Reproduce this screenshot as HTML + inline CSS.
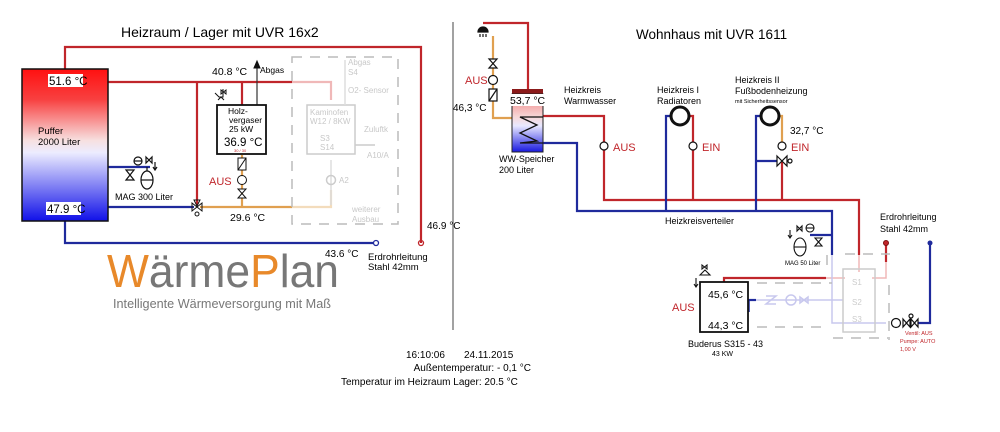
<!DOCTYPE html>
<html><head><meta charset="utf-8"><style>
html,body{margin:0;padding:0;background:#fff;}
svg{display:block;font-family:"Liberation Sans",sans-serif;}
</style></head><body>
<svg width="1000" height="432" viewBox="0 0 1000 432" xmlns="http://www.w3.org/2000/svg">
<defs>
<linearGradient id="tank" x1="0" y1="0" x2="0" y2="1">
<stop offset="0" stop-color="#ff1010"/><stop offset="0.2" stop-color="#f84040"/><stop offset="0.47" stop-color="#f7e0e0"/><stop offset="0.55" stop-color="#ececff"/><stop offset="1" stop-color="#1010e8"/></linearGradient>
<linearGradient id="tank2" x1="0" y1="0" x2="0" y2="1">
<stop offset="0" stop-color="#f08080"/><stop offset="0.4" stop-color="#f7d8d8"/><stop offset="0.55" stop-color="#e8e8ff"/><stop offset="1" stop-color="#1818e0"/></linearGradient>
</defs>
<g fill="none" stroke-width="2.2">
<polyline points="65,70 65,47 421,47 421,243" stroke="#c0262b"/>
<circle cx="421" cy="243" r="2.5" stroke="#c0262b" stroke-width="1.3"/>
<line x1="108" y1="82" x2="292" y2="82" stroke="#c0262b"/>
<polyline points="292,82 331,82 331,100" stroke="#f0b8b8"/>
<line x1="197" y1="82" x2="197" y2="205" stroke="#c0262b"/>
<line x1="242" y1="82" x2="242" y2="105" stroke="#c0262b"/>
<line x1="257" y1="105" x2="257" y2="63" stroke="#333" stroke-width="1.2"/>
<line x1="108" y1="167" x2="150" y2="167" stroke="#1f2a9c"/>
<line x1="108" y1="207" x2="194" y2="207" stroke="#1f2a9c"/>
<line x1="200" y1="207" x2="292" y2="207" stroke="#e0a050"/>
<polyline points="292,207 331,207 331,190" stroke="#f3dcbc"/>
<line x1="242" y1="155" x2="242" y2="207" stroke="#e0a050"/>
<polyline points="65,221 65,243 374,243" stroke="#1f2a9c"/>
<circle cx="376" cy="243" r="2.5" stroke="#1f2a9c" stroke-width="1.3"/>
<polyline points="483,23 528,23 528,89" stroke="#c0262b"/>
<polyline points="493,36 493,118 512,118" stroke="#e0a050"/>
<polyline points="543,116 604,116 604,200 859,200 859,255" stroke="#c0262b"/>
<polyline points="543,143 577,143 577,211 832,211 832,255" stroke="#1f2a9c"/>
<polyline points="666,211 666,116 671,116" stroke="#1f2a9c"/>
<polyline points="689,116 693,116 693,200" stroke="#c0262b"/>
<polyline points="756,211 756,116 761,116" stroke="#1f2a9c"/>
<polyline points="779,116 782,116 782,146" stroke="#e0a050"/>
<line x1="782" y1="162" x2="782" y2="200" stroke="#c0262b"/>
<line x1="756" y1="161" x2="779" y2="161" stroke="#1f2a9c"/>
<line x1="810" y1="235" x2="832" y2="235" stroke="#1f2a9c"/>
<polyline points="724,282 724,278 826,278" stroke="#c0262b"/>
<line x1="748" y1="300" x2="756" y2="300" stroke="#1f2a9c"/>
<line x1="749" y1="300" x2="749" y2="312" stroke="#1f2a9c" stroke-width="1.5"/>
<polyline points="930,245 930,323 903,323" stroke="#1f2a9c"/>
<line x1="886" y1="245" x2="886" y2="262" stroke="#c0262b"/>
</g>
<g fill="none" stroke-width="1.5">
<polyline points="826,278 845,278" stroke="#f0b8b8"/>
<polyline points="886,262 886,278 872,278" stroke="#f0b8b8"/>
<line x1="859" y1="255" x2="859" y2="272" stroke="#f0b8b8"/>
<polyline points="832,255 832,323 886,323" stroke="#c8c8ee"/>
<line x1="756" y1="300" x2="843" y2="300" stroke="#c8c8ee"/>
<rect x="843" y="269" width="32" height="63" stroke="#cccccc"/>
<g stroke="#bbbbbb" stroke-dasharray="10,8">
<line x1="757" y1="283" x2="832" y2="283"/>
<line x1="757" y1="327" x2="828" y2="327"/>
<line x1="889" y1="285" x2="889" y2="340"/>
<line x1="833" y1="338" x2="890" y2="338"/>
<line x1="845" y1="254" x2="890" y2="254"/>
<line x1="827" y1="255" x2="827" y2="268"/>
</g>
<circle cx="791" cy="300" r="5" stroke="#c8c8ee"/>
<path d="M766,296 h10 l-10,8 h10 M800,297 l8,6 v-6 l-8,6z" stroke="#c8c8ee"/>
<text x="852" y="285" font-size="8" fill="#ccc" stroke="none">S1</text>
<text x="852" y="305" font-size="8" fill="#ccc" stroke="none">S2</text>
<text x="852" y="322" font-size="8" fill="#ccc" stroke="none">S3</text>
</g>
<g fill="none" stroke="#bbbbbb" stroke-width="1.5">
<rect x="292" y="57" width="106" height="167" stroke-dasharray="10,8"/>
<rect x="307" y="105" width="48" height="49" stroke="#cccccc"/>
<line x1="331" y1="160" x2="331" y2="205" stroke="#ddd"/>
<circle cx="331" cy="180" r="4.5" stroke="#ccc"/>
<line x1="355" y1="145" x2="375" y2="145" stroke="#ccc"/>
<line x1="345" y1="60" x2="345" y2="105" stroke="#ddd"/>
</g>
<g font-size="8" fill="#c8c8c8">
<text x="348" y="65">Abgas</text><text x="348" y="75">S4</text>
<text x="348" y="93">O2- Sensor</text>
<text x="310" y="115">Kaminofen</text><text x="310" y="124">W12 / 8KW</text>
<text x="320" y="141">S3</text><text x="320" y="150">S14</text>
<text x="364" y="132">Zuluftk</text><text x="367" y="158">A10/A</text>
<text x="339" y="183">A2</text>
<text x="352" y="212">weiterer</text><text x="352" y="222">Ausbau</text>
</g>
<rect x="22" y="69" width="86" height="152" fill="url(#tank)" stroke="#111" stroke-width="1.5"/>
<rect x="48" y="74" width="35" height="13" fill="#fff"/>
<text x="49" y="85" font-size="11.5">51.6 °C</text>
<rect x="46" y="202" width="35" height="13" fill="#fff"/>
<text x="47" y="213" font-size="11.5">47.9 °C</text>
<text x="38" y="134" font-size="9.5">Puffer</text>
<text x="38" y="145" font-size="9.5">2000 Liter</text>
<g stroke="#111" fill="none" stroke-width="1.2">
<ellipse cx="147" cy="180" rx="6" ry="9"/><line x1="141" y1="180" x2="153" y2="180"/>
<line x1="147" y1="167" x2="147" y2="171"/>
<path d="M126,170 l8,10 h-8 l8,-10z"/>
<circle cx="138" cy="161" r="4"/><line x1="134" y1="161" x2="142" y2="161"/>
<path d="M146,157 l6,6 v-6 l-6,6z M155,162 v7 M153,167 l2,3 l2,-3"/>
</g>
<text x="115" y="200" font-size="9">MAG 300 Liter</text>
<g stroke="#111" stroke-width="1" fill="none"><path d="M192,203 l10,8 v-8 l-10,8z M194,200 l6,0 l-3,6z"/><circle cx="197" cy="214" r="2"/></g>
<rect x="217" y="105" width="49" height="49" fill="#fff" stroke="#111" stroke-width="1.8"/>
<text x="228" y="114" font-size="8.5">Holz-</text>
<text x="229" y="123" font-size="8.5">vergaser</text>
<text x="229" y="132" font-size="8.5">25 kW</text>
<text x="224" y="146" font-size="11.5">36.9 °C</text>
<text x="234" y="152" font-size="4" fill="#c0262b">30 / 30</text>
<g stroke="#111" stroke-width="1" fill="none">
<path d="M215,93 l4,4 h4 v-8 M218,100 l3,-3 l3,3 M221,90 l5,4 v-4 l-5,4z"/>
<rect x="238" y="158" width="8" height="12" fill="#fff"/><line x1="238" y1="170" x2="246" y2="158"/>
<circle cx="242" cy="180" r="4.5" fill="#fff"/>
<path d="M238,189 h8 l-8,9 h8z" fill="#fff"/>
<path d="M254,68 l3,-7 l3,7z" fill="#111"/>
</g>
<text x="260" y="73" font-size="8.5">Abgas</text>
<text x="212" y="75" font-size="10.5">40.8 °C</text>
<text x="209" y="185" font-size="11" fill="#c0262b">AUS</text>
<text x="230" y="221" font-size="10.5">29.6 °C</text>
<text x="325" y="257" font-size="10">43.6 °C</text>
<text x="368" y="260" font-size="9.5">Erdrohrleitung</text>
<text x="368" y="270" font-size="9.5">Stahl 42mm</text>
<text x="427" y="229" font-size="10">46.9 °C</text>
<text x="121" y="37" font-size="14">Heizraum / Lager mit UVR 16x2</text>
<text x="107" y="287" font-size="46" fill="#777" textLength="232" lengthAdjust="spacingAndGlyphs"><tspan fill="#e8892a">W</tspan>ärme<tspan fill="#e8892a">P</tspan>lan</text>
<text x="113" y="308" font-size="13" fill="#777" textLength="218" lengthAdjust="spacingAndGlyphs">Intelligente Wärmeversorgung mit Maß</text>
<line x1="453" y1="22" x2="453" y2="330" stroke="#444" stroke-width="1"/>
<text x="406" y="358" font-size="10">16:10:06</text>
<text x="464" y="358" font-size="10">24.11.2015</text>
<text x="531" y="371" font-size="10" text-anchor="end">Außentemperatur: - 0,1 °C</text>
<text x="341" y="385" font-size="10">Temperatur im Heizraum Lager: 20.5 °C</text>
<text x="636" y="39" font-size="13.5">Wohnhaus mit UVR 1611</text>
<g stroke="#111" stroke-width="1.2" fill="none">
<path d="M478,32 a5,5 0 0 1 10,0z M480,34 v3 M483,34 v3 M486,34 v3" fill="#111"/>
<path d="M489,59 h8 l-8,9 h8z" fill="#fff"/>
<circle cx="493" cy="80" r="4.5" fill="#fff"/>
<rect x="489" y="89" width="8" height="12" fill="#fff"/><line x1="489" y1="101" x2="497" y2="89"/>
</g>
<text x="465" y="84" font-size="11" fill="#c0262b">AUS</text>
<text x="453" y="111" font-size="10">46,3 °C</text>
<rect x="512" y="89" width="31" height="5" fill="#8b1a1a"/>
<rect x="512" y="94" width="31" height="58" fill="url(#tank2)" stroke="#222" stroke-width="1"/>
<rect x="511" y="94" width="33" height="12" fill="#fff"/>
<text x="510" y="104" font-size="10.5">53,7 °C</text>
<polyline points="543,117 520,117 537,125 520,133 537,141 520,143 543,143" fill="none" stroke="#111" stroke-width="1.3"/>
<text x="499" y="162" font-size="9">WW-Speicher</text>
<text x="499" y="173" font-size="9">200 Liter</text>
<text x="564" y="93" font-size="9">Heizkreis</text>
<text x="564" y="104" font-size="9">Warmwasser</text>
<text x="657" y="93" font-size="9">Heizkreis I</text>
<text x="657" y="104" font-size="9">Radiatoren</text>
<text x="735" y="83" font-size="9">Heizkreis II</text>
<text x="735" y="94" font-size="9">Fußbodenheizung</text>
<text x="735" y="103" font-size="5.5">mit Sicherheitssensor</text>
<circle cx="680" cy="116" r="9" fill="#fff" stroke="#111" stroke-width="3"/>
<circle cx="770" cy="116" r="9" fill="#fff" stroke="#111" stroke-width="3"/>
<g fill="#fff" stroke="#111" stroke-width="1.2">
<circle cx="604" cy="146" r="4"/><circle cx="693" cy="146" r="4"/><circle cx="782" cy="146" r="4"/>
<path d="M777,156 l10,10 v-10 l-10,10z"/><circle cx="790" cy="161" r="2"/>
</g>
<text x="613" y="151" font-size="11" fill="#c0262b">AUS</text>
<text x="702" y="151" font-size="11" fill="#c0262b">EIN</text>
<text x="791" y="151" font-size="11" fill="#c0262b">EIN</text>
<text x="790" y="134" font-size="10">32,7 °C</text>
<text x="665" y="224" font-size="9">Heizkreisverteiler</text>
<text x="880" y="220" font-size="9">Erdrohrleitung</text>
<text x="880" y="232" font-size="9">Stahl 42mm</text>
<circle cx="886" cy="243" r="2.5" fill="#c0262b" stroke="#7a1010"/>
<circle cx="930" cy="243" r="2.5" fill="#1f2a9c"/>
<g stroke="#111" stroke-width="1.1" fill="none">
<ellipse cx="800" cy="247" rx="6" ry="9"/><line x1="794" y1="247" x2="806" y2="247"/>
<path d="M815,238 h7 l-7,8 h7z"/>
<circle cx="810" cy="228" r="4"/><line x1="806" y1="228" x2="814" y2="228"/>
<path d="M797,226 l5,5 v-5 l-5,5z M790,230 v7 M788,235 l2,3 l2,-3"/>
<path d="M700,275 l5,-5 l5,5z M696,278 v8 M694,284 l2,3 l2,-3 M702,265 l5,4 v-4 l-5,4z"/>
</g>
<text x="785" y="265" font-size="6">MAG 50 Liter</text>
<rect x="700" y="282" width="48" height="50" fill="#fff" stroke="#111" stroke-width="1.8"/>
<text x="708" y="298" font-size="10.5">45,6 °C</text>
<text x="708" y="329" font-size="10.5">44,3 °C</text>
<text x="672" y="311" font-size="11" fill="#c0262b">AUS</text>
<text x="688" y="347" font-size="9">Buderus S315 - 43</text>
<text x="712" y="356" font-size="7">43 KW</text>
<g stroke="#111" stroke-width="1.2" fill="#fff">
<circle cx="896" cy="323" r="4.5"/>
<path d="M903,319 l7,8 v-8 l-7,8z M911,319 l7,8 v-8 l-7,8z"/><circle cx="911" cy="316" r="2"/>
</g>
<text x="905" y="335" font-size="5.5" fill="#c0262b">Ventil: AUS</text>
<text x="900" y="343" font-size="5.5" fill="#c0262b">Pumpe: AUTO</text>
<text x="900" y="351" font-size="5.5" fill="#c0262b">1,00 V</text>
</svg>
</body></html>
